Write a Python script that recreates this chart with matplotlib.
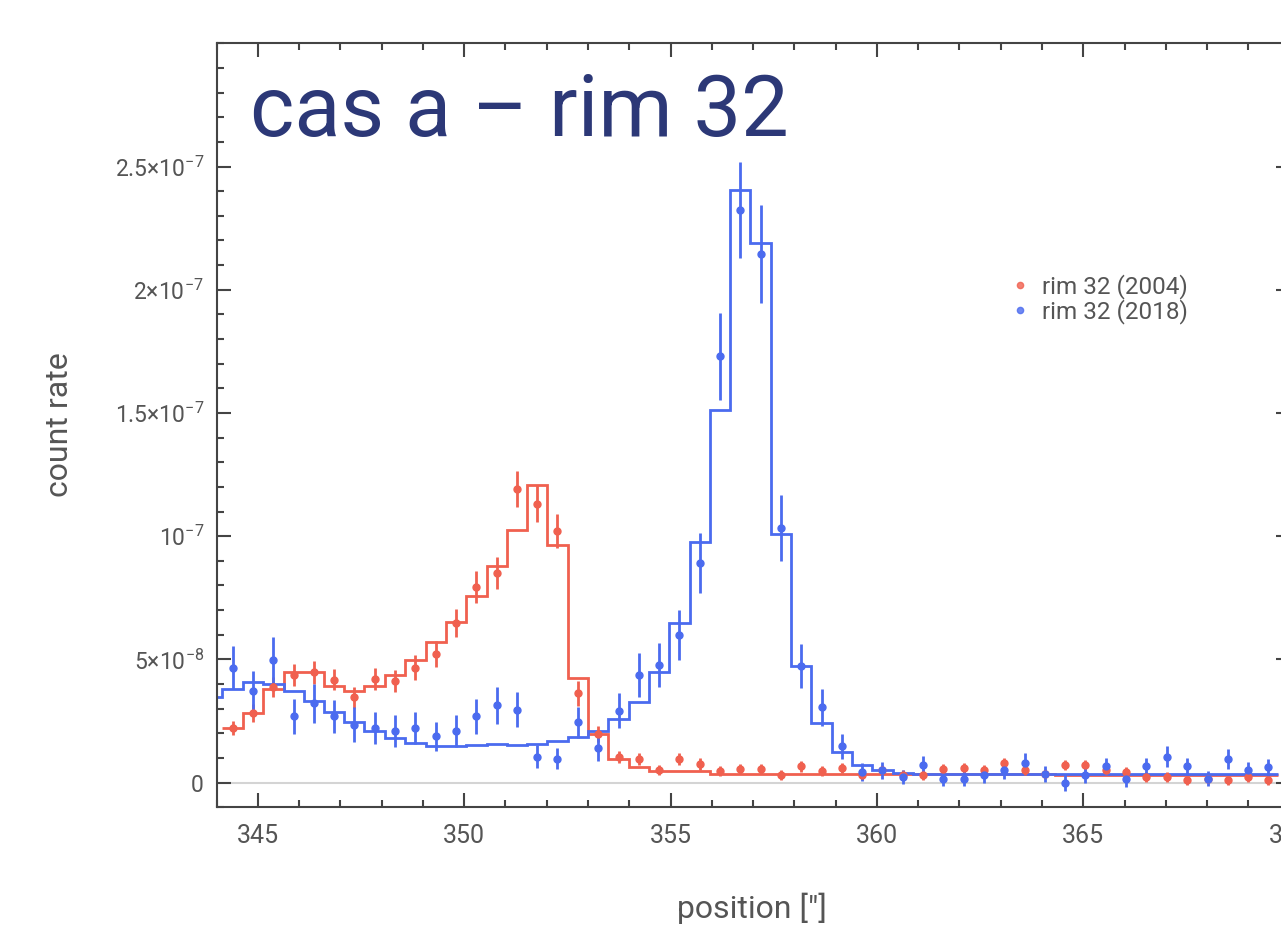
import numpy as np
import matplotlib
matplotlib.use("Agg")
import matplotlib.pyplot as plt
from matplotlib.lines import Line2D
from matplotlib.ticker import FixedLocator, MultipleLocator

plt.rcParams['font.family'] = ['Roboto', 'DejaVu Sans']
plt.rcParams['mathtext.fontset'] = 'custom'
plt.rcParams['mathtext.rm'] = 'Roboto'
plt.rcParams['mathtext.it'] = 'Roboto'
plt.rcParams['mathtext.bf'] = 'Roboto'

# bin centres (arcsec), one ACIS pixel apart
pos = np.array([344.39, 344.88, 345.37, 345.87, 346.36, 346.85, 347.34, 347.83,
                348.33, 348.82, 349.31, 349.80, 350.29, 350.79, 351.28, 351.77,
                352.26, 352.75, 353.25, 353.74, 354.23, 354.72, 355.21, 355.71,
                356.20, 356.69, 357.18, 357.67, 358.17, 358.66, 359.15, 359.64,
                360.13, 360.63, 361.12, 361.61, 362.10, 362.59, 363.09, 363.58,
                364.07, 364.56, 365.05, 365.55, 366.04, 366.53, 367.02, 367.51,
                368.01, 368.50, 368.99, 369.48])
half_bin = 0.246

# 2004 profile
rate_04 = np.array([2.22, 2.83, 3.89, 4.38, 4.47, 4.18, 3.46, 4.22, 4.11, 4.67,
                    5.21, 6.47, 7.93, 8.51, 11.91, 11.32, 10.23, 3.62, 1.98, 1.03,
                    0.97, 0.50, 0.97, 0.77, 0.46, 0.57, 0.57, 0.30, 0.66, 0.46,
                    0.59, 0.32, 0.50, 0.32, 0.32, 0.57, 0.61, 0.50, 0.79, 0.50,
                    0.36, 0.70, 0.70, 0.50, 0.43, 0.23, 0.23, 0.09, 0.16, 0.09,
                    0.23, 0.09]) * 1e-8
err_04 = np.array([0.30, 0.37, 0.40, 0.45, 0.45, 0.44, 0.43, 0.45, 0.45, 0.50,
                   0.52, 0.58, 0.64, 0.64, 0.73, 0.74, 0.69, 0.49, 0.32, 0.25,
                   0.25, 0.20, 0.25, 0.25, 0.20, 0.20, 0.20, 0.20, 0.22, 0.20,
                   0.20, 0.20, 0.20, 0.20, 0.20, 0.20, 0.20, 0.20, 0.22, 0.20,
                   0.20, 0.20, 0.20, 0.20, 0.20, 0.20, 0.20, 0.20, 0.20, 0.20,
                   0.20, 0.20]) * 1e-8
model_04 = np.array([2.22, 2.83, 3.80, 4.50, 4.50, 3.93, 3.73, 3.93, 4.38, 4.97,
                     5.71, 6.53, 7.57, 8.78, 10.27, 12.09, 9.66, 4.23, 1.98, 0.97,
                     0.63, 0.46, 0.46, 0.46, 0.37, 0.37, 0.36, 0.36, 0.36, 0.36,
                     0.36, 0.35, 0.35, 0.35, 0.35, 0.35, 0.34, 0.34, 0.34, 0.34,
                     0.34, 0.33, 0.33, 0.33, 0.33, 0.33, 0.32, 0.32, 0.32, 0.32,
                     0.32, 0.32]) * 1e-8

# 2018 profile
rate_18 = np.array([4.67, 3.73, 4.98, 2.69, 3.23, 2.69, 2.34, 2.22, 2.11, 2.22,
                    1.88, 2.11, 2.69, 3.15, 2.95, 1.06, 0.97, 2.45, 1.40, 2.92,
                    4.38, 4.77, 5.99, 8.92, 17.30, 23.23, 21.45, 10.33, 4.74, 3.06,
                    1.48, 0.43, 0.50, 0.23, 0.70, 0.16, 0.16, 0.30, 0.50, 0.79,
                    0.34, 0.00, 0.30, 0.66, 0.13, 0.66, 1.06, 0.66, 0.16, 0.97,
                    0.50, 0.63]) * 1e-8
err_18 = np.array([0.88, 0.82, 0.92, 0.72, 0.79, 0.68, 0.71, 0.65, 0.65, 0.65,
                   0.60, 0.65, 0.70, 0.75, 0.71, 0.47, 0.43, 0.63, 0.52, 0.70,
                   0.89, 0.88, 1.02, 1.23, 1.77, 1.96, 1.97, 1.35, 0.89, 0.76,
                   0.51, 0.35, 0.35, 0.30, 0.40, 0.30, 0.30, 0.32, 0.35, 0.40,
                   0.32, 0.32, 0.32, 0.35, 0.30, 0.35, 0.44, 0.35, 0.30, 0.40,
                   0.32, 0.35]) * 1e-8
# model has one extra bin on the left edge
model_18 = np.array([3.46, 3.80, 4.07, 4.00, 3.70, 3.33, 2.85, 2.45, 2.09, 1.80,
                     1.60, 1.48, 1.48, 1.52, 1.55, 1.52, 1.58, 1.68, 1.87, 2.11,
                     2.59, 3.26, 4.47, 6.47, 9.75, 15.14, 24.03, 21.89, 10.09, 4.74,
                     2.41, 1.24, 0.73, 0.53, 0.39, 0.36, 0.36, 0.36, 0.36, 0.36,
                     0.36, 0.36, 0.36, 0.35, 0.35, 0.35, 0.35, 0.35, 0.35, 0.35,
                     0.35, 0.35, 0.35]) * 1e-8

ytick_vals = [0, 5e-8, 1e-7, 1.5e-7, 2e-7, 2.5e-7]
ytick_labels = ['0', r'$5{\times}10^{-8}$', r'$10^{-7}$', r'$1.5{\times}10^{-7}$',
                r'$2{\times}10^{-7}$', r'$2.5{\times}10^{-7}$']
xtick_vals = [345, 350, 355, 360, 365, 370]

red = '#f0604f'
blue = '#4b6bef'
grey = '#555555'

edges = np.append(pos - half_bin, pos[-1] + half_bin)
edges_18 = np.append(pos[0] - 3 * half_bin, edges)

fig = plt.figure(figsize=(12.81, 9.25), dpi=100)
ax = fig.add_axes([216.5 / 1281, 1 - 807.3 / 925, (1289.7 - 216.5) / 1281, (807.3 - 43.3) / 925])

ax.axhline(0, color='#d4d4d4', lw=1.5, zorder=0)
ax.stairs(model_04, edges, color=red, lw=2, baseline=None)
ax.stairs(model_18, edges_18, color=blue, lw=2, baseline=None)
ax.errorbar(pos, rate_04, yerr=err_04, fmt='o', ms=5, color=red, elinewidth=2, capsize=0)
ax.errorbar(pos, rate_18, yerr=err_18, fmt='o', ms=5, color=blue, elinewidth=2, capsize=0)

ax.set_xlim(344, 370)
ax.set_ylim(-1e-8, 3e-7)

ax.xaxis.set_major_locator(FixedLocator(xtick_vals))
ax.xaxis.set_minor_locator(MultipleLocator(1))
ax.set_xticklabels([str(v) for v in xtick_vals])
ax.yaxis.set_major_locator(FixedLocator(ytick_vals))
ax.yaxis.set_minor_locator(MultipleLocator(1e-8))
ax.set_yticklabels(ytick_labels)

for sp in ax.spines.values():
    sp.set_color('#444444')
    sp.set_linewidth(1.5)
ax.tick_params(which='both', direction='in', top=True, right=True, color='#444444', width=1.5)
ax.tick_params(which='major', length=10)
ax.tick_params(which='minor', length=5)
ax.tick_params(axis='x', labelsize=18, labelcolor=grey, pad=12)
ax.tick_params(axis='y', labelsize=16.5, labelcolor=grey, pad=9)

ax.text(0.031, 0.879, 'cas a – rim 32', transform=ax.transAxes, fontsize=61,
        color='#2c3877', va='baseline', ha='left')

fig.text(752 / 1281, 1 - 908 / 925, 'position ["]', fontsize=23, color=grey,
         ha='center', va='center')
fig.text(60 / 1281, 1 - 425 / 925, 'count rate', fontsize=23, color=grey,
         rotation=90, ha='center', va='center')

handles = [Line2D([], [], ls='none', marker='o', ms=4.5, color=red, alpha=0.8),
           Line2D([], [], ls='none', marker='o', ms=4.5, color=blue, alpha=0.8)]
ax.legend(handles, ['rim 32 (2004)', 'rim 32 (2018)'], frameon=False, fontsize=17.5,
          labelcolor=grey, loc='upper left', bbox_to_anchor=(997 / 1281, 1 - 262 / 925),
          bbox_transform=fig.transFigure, handlelength=0.9, handletextpad=0.45,
          labelspacing=0.0, borderpad=0)

fig.savefig('out.png', dpi=100)
